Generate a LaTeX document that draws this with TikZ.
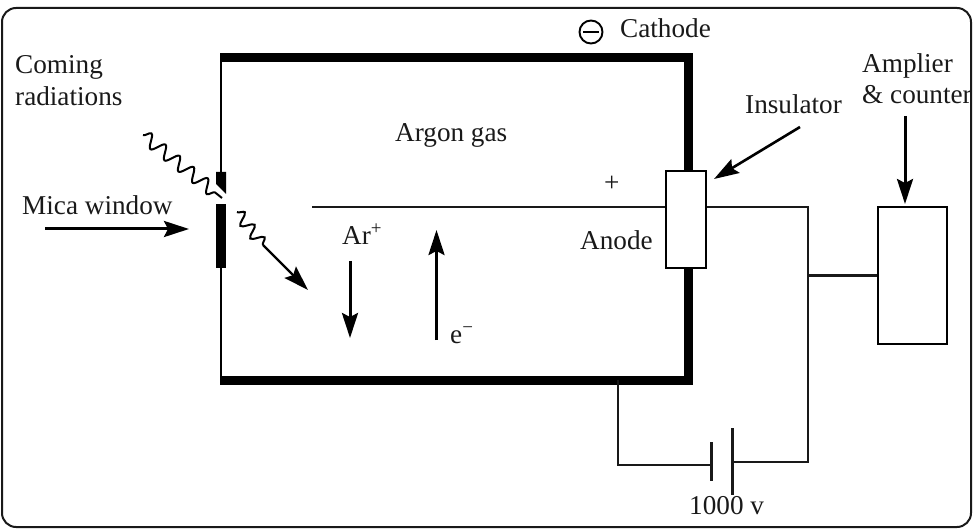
\documentclass[tikz,border=0pt]{standalone}
\usepackage{fontspec}
\setmainfont{Liberation Serif}
\usetikzlibrary{arrows.meta,decorations.pathmorphing}
\newcommand{\supmark}[1]{\raisebox{10pt}{\fontsize{19}{19}\selectfont #1}}
\tikzset{
 x=1pt,y=-1pt,
 lab/.style={inner sep=0pt,anchor=base west,font=\fontsize{27.2}{27.2}\selectfont,text=black!90},
 wire/.style={draw=black!90,line width=2.3pt},
 thick wall/.style={draw=black,line width=9pt,line join=miter},
 thin wall/.style={draw=black,line width=2.6pt},
 arr/.style={draw=black,line width=3pt,-{Stealth[length=25pt,width=16pt,inset=4pt]}},
 wave/.style={draw=black,line width=2pt,decorate,decoration={snake,amplitude=6.5pt,segment length=18pt}},
 part/.style={draw=black,line width=2.3pt,fill=white,inner sep=0pt},
 plate/.style={fill=black,draw=none}
}
\begin{document}
\begin{tikzpicture}
\useasboundingbox (0,0) rectangle (974,529);
\draw[rounded corners=14pt,draw=black!90,line width=2pt] (2,8) rectangle (971,527);
% coordinates
\coordinate (tl) at (220,57.5);
\coordinate (tr) at (688,57.5);
\coordinate (br) at (688,380.5);
\coordinate (bl) at (220,380.5);
\coordinate (wu) at (221,172);
\coordinate (wl) at (221,268);
% chamber
\draw[thin wall] (221,57.5) -- (wu);
\draw[thin wall] (wl) -- (221,380.5);
\node[part,minimum width=40pt,minimum height=97pt] (ins) at (686,219.5) {};
\coordinate (anodeEnd) at (312,207);
\draw[thick wall] (tl) -- (tr) -- (ins.north-|tr);
\draw[thick wall] (ins.south-|br) -- (br) -- (bl);
\draw[wire] (anodeEnd) -- (ins.west|-anodeEnd);
% window
\fill[plate] (216,172) -- (226,172) -- (226,194) -- (216,184) -- cycle;
\fill[plate] (216,204) rectangle (226,268);
% circuit
\node[part,minimum width=69pt,minimum height=137pt] (amp) at (912.5,275.5) {};
\coordinate (jn) at (808,207);
\coordinate (jb) at (808,462);
\coordinate (pa) at (732.5,462);
\coordinate (pb) at (711.5,465);
\coordinate (cw) at (618,465);
\coordinate (ct) at (618,380);
\coordinate (ja) at (808,275.5);
\draw[wire] (ins.east|-jn) -- (jn) -- (jb) -- (pa);
\draw[wire] (ja) -- (amp.west|-ja);
\draw[wire] (pb) -- (cw) -- (ct);
\coordinate (p1t) at (732.5,428);
\coordinate (p1b) at (732.5,495);
\coordinate (p2t) at (711.5,442);
\coordinate (p2b) at (711.5,481);
\draw[wire,line width=2.6pt] (p1t) -- (p1b);
\draw[wire] (p2t) -- (p2b);
% waves and arrows
\coordinate (w1a) at (143,135);
\coordinate (w1b) at (222,198);
\coordinate (w2a) at (237,212);
\coordinate (w2b) at (263,245);
\coordinate (w2c) at (308,290);
\draw[wave] (w1a) -- (w1b);
\draw[wave,decoration={snake,amplitude=6pt,segment length=16pt}] (w2a) -- (w2b);
\draw[arr,line width=2.4pt] (w2b) -- (w2c);
\coordinate (m1) at (45,229);
\coordinate (m2) at (189,229);
\draw[arr] (m1) -- (m2);
\coordinate (ar1) at (350,261);
\coordinate (ar2) at (350,338);
\draw[arr] (ar1) -- (ar2);
\coordinate (e1) at (436.5,340);
\coordinate (e2) at (436.5,230);
\draw[arr] (e1) -- (e2);
\coordinate (am1) at (905,116);
\coordinate (am2) at (905,204);
\draw[arr] (am1) -- (am2);
\coordinate (in1) at (800,127);
\coordinate (in2) at (714,179);
\draw[arr,line width=2.6pt] (in1) -- (in2);
% minus sign
\node[draw=black,circle,line width=1.9pt,minimum size=23pt,inner sep=0pt] (minus) at (591,32) {};
\draw[line width=2.1pt] ([xshift=4.5pt]minus.west) -- ([xshift=-4.5pt]minus.east);
% labels
\node[lab] (t1) at (620,38) {Cathode};
\node[lab] (t2) at (15,74) {Coming};
\node[lab] (t3) at (15,106) {radiations};
\node[lab] (t4) at (22,215) {Mica window};
\node[lab] (t5) at (395,142) {Argon gas};
\node[lab] (t6) at (604,192) {+};
\node[lab] (t7) at (342,245) {Ar\supmark{+}};
\node[lab] (t8) at (450,343) {e\supmark{−}};
\node[lab] (t9) at (580,250) {Anode};
\node[lab] (t10) at (745,114) {Insulator};
\node[lab] (t11) at (862,73) {Amplier};
\node[lab] (t12) at (862,104) {\& counter};
\node[lab] (t13) at (689,514) {1000 v};
\end{tikzpicture}
\end{document}
